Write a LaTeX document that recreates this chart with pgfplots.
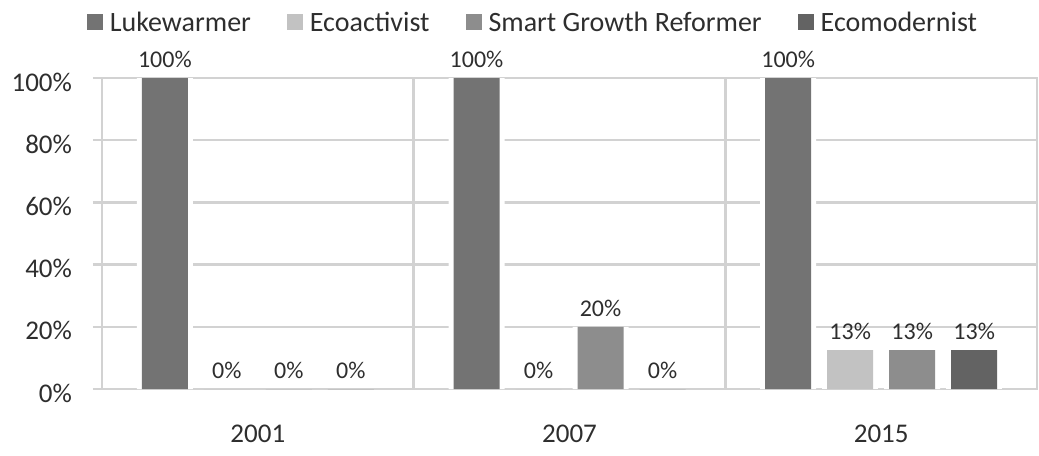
\documentclass[border=0pt]{standalone}
\usepackage{pgfplots}
\pgfplotsset{compat=1.18}
\usepackage{fontspec}
\setmainfont{Carlito}
\definecolor{cLuke}{HTML}{737373}
\definecolor{cEcoa}{HTML}{C2C2C2}
\definecolor{cSmart}{HTML}{8D8D8D}
\definecolor{cEcom}{HTML}{636363}
\definecolor{cGrid}{HTML}{D2D2D2}
\definecolor{cText}{HTML}{2E2E2E}
\begin{document}
\begin{tikzpicture}
\begin{axis}[
  name=ax,
  scale only axis,
  width=467.5pt, height=155.5pt,
  xmin=-0.5, xmax=2.5,
  ymin=0, ymax=100,
  xtick={0,1,2},
  xticklabels={2001,2007,2015},
  minor xtick={0.5,1.5},
  xminorgrids=true,
  ymajorgrids=true,
  ytick={0,20,40,60,80,100},
  yticklabels={0\%,20\%,40\%,60\%,80\%,100\%},
  ytick pos=left,
  tick align=outside,
  major tick length=4.5pt,
  minor tick length=0pt,
  x tick style={draw=none},
  y tick style={cGrid, line width=1.2pt},
  grid style={cGrid, line width=1.2pt},
  minor grid style={cGrid, line width=1.2pt},
  axis line style={cGrid, line width=1.2pt},
  tick label style={font=\fontsize{13.5}{16}\selectfont, text=cText},
  yticklabel style={xshift=-7pt, yshift=-2pt},
  xticklabel style={yshift=-10pt},
  ybar,
  bar width=23pt,
  point meta=explicit symbolic,
  nodes near coords,
  nodes near coords style={font=\fontsize{12}{14}\selectfont, text=cText, yshift=1.5pt},
  legend columns=4,
  legend cell align=left,
  legend style={draw=none, fill=none, at={(0.462,1.175)}, anchor=center,
    font=\fontsize{14}{17}\selectfont, text=cText,
    /tikz/every even column/.append style={column sep=16pt}},
  legend image code/.code={\fill[#1] (0pt,-3pt) rectangle (8pt,5pt); \path (9.5pt,0pt);},
]
% white glow behind non-zero bars
\addplot[ybar, forget plot, fill=white, draw=none, bar width=28pt, bar shift=-46.5pt, nodes near coords={}] coordinates {(0,100) (1,100) (2,100)};
\addplot[ybar, forget plot, fill=white, draw=none, bar width=28pt, bar shift=-15.5pt, nodes near coords={}] coordinates {(2,12.5)};
\addplot[ybar, forget plot, fill=white, draw=none, bar width=28pt, bar shift=15.5pt, nodes near coords={}] coordinates {(1,20) (2,12.5)};
\addplot[ybar, forget plot, fill=white, draw=none, bar width=28pt, bar shift=46.5pt, nodes near coords={}] coordinates {(2,12.5)};
% main bars
\addplot[ybar, fill=cLuke, draw=none, bar shift=-46.5pt] coordinates {(0,100) [100\%] (1,100) [100\%] (2,100) [100\%]};
\addlegendentry{Lukewarmer}
\addplot[ybar, fill=cEcoa, draw=none, bar shift=-15.5pt] coordinates {(0,0) [0\%] (1,0) [0\%] (2,12.5) [13\%]};
\addlegendentry{Ecoactivist}
\addplot[ybar, fill=cSmart, draw=none, bar shift=15.5pt] coordinates {(0,0) [0\%] (1,20) [20\%] (2,12.5) [13\%]};
\addlegendentry{Smart Growth Reformer}
\addplot[ybar, fill=cEcom, draw=none, bar shift=46.5pt] coordinates {(0,0) [0\%] (1,0) [0\%] (2,12.5) [13\%]};
\addlegendentry{Ecomodernist}
\end{axis}
\pgfresetboundingbox
\path ([shift={(-51pt,-33pt)}]ax.south west) rectangle ([shift={(1pt,39pt)}]ax.north east);
\end{tikzpicture}
\end{document}
